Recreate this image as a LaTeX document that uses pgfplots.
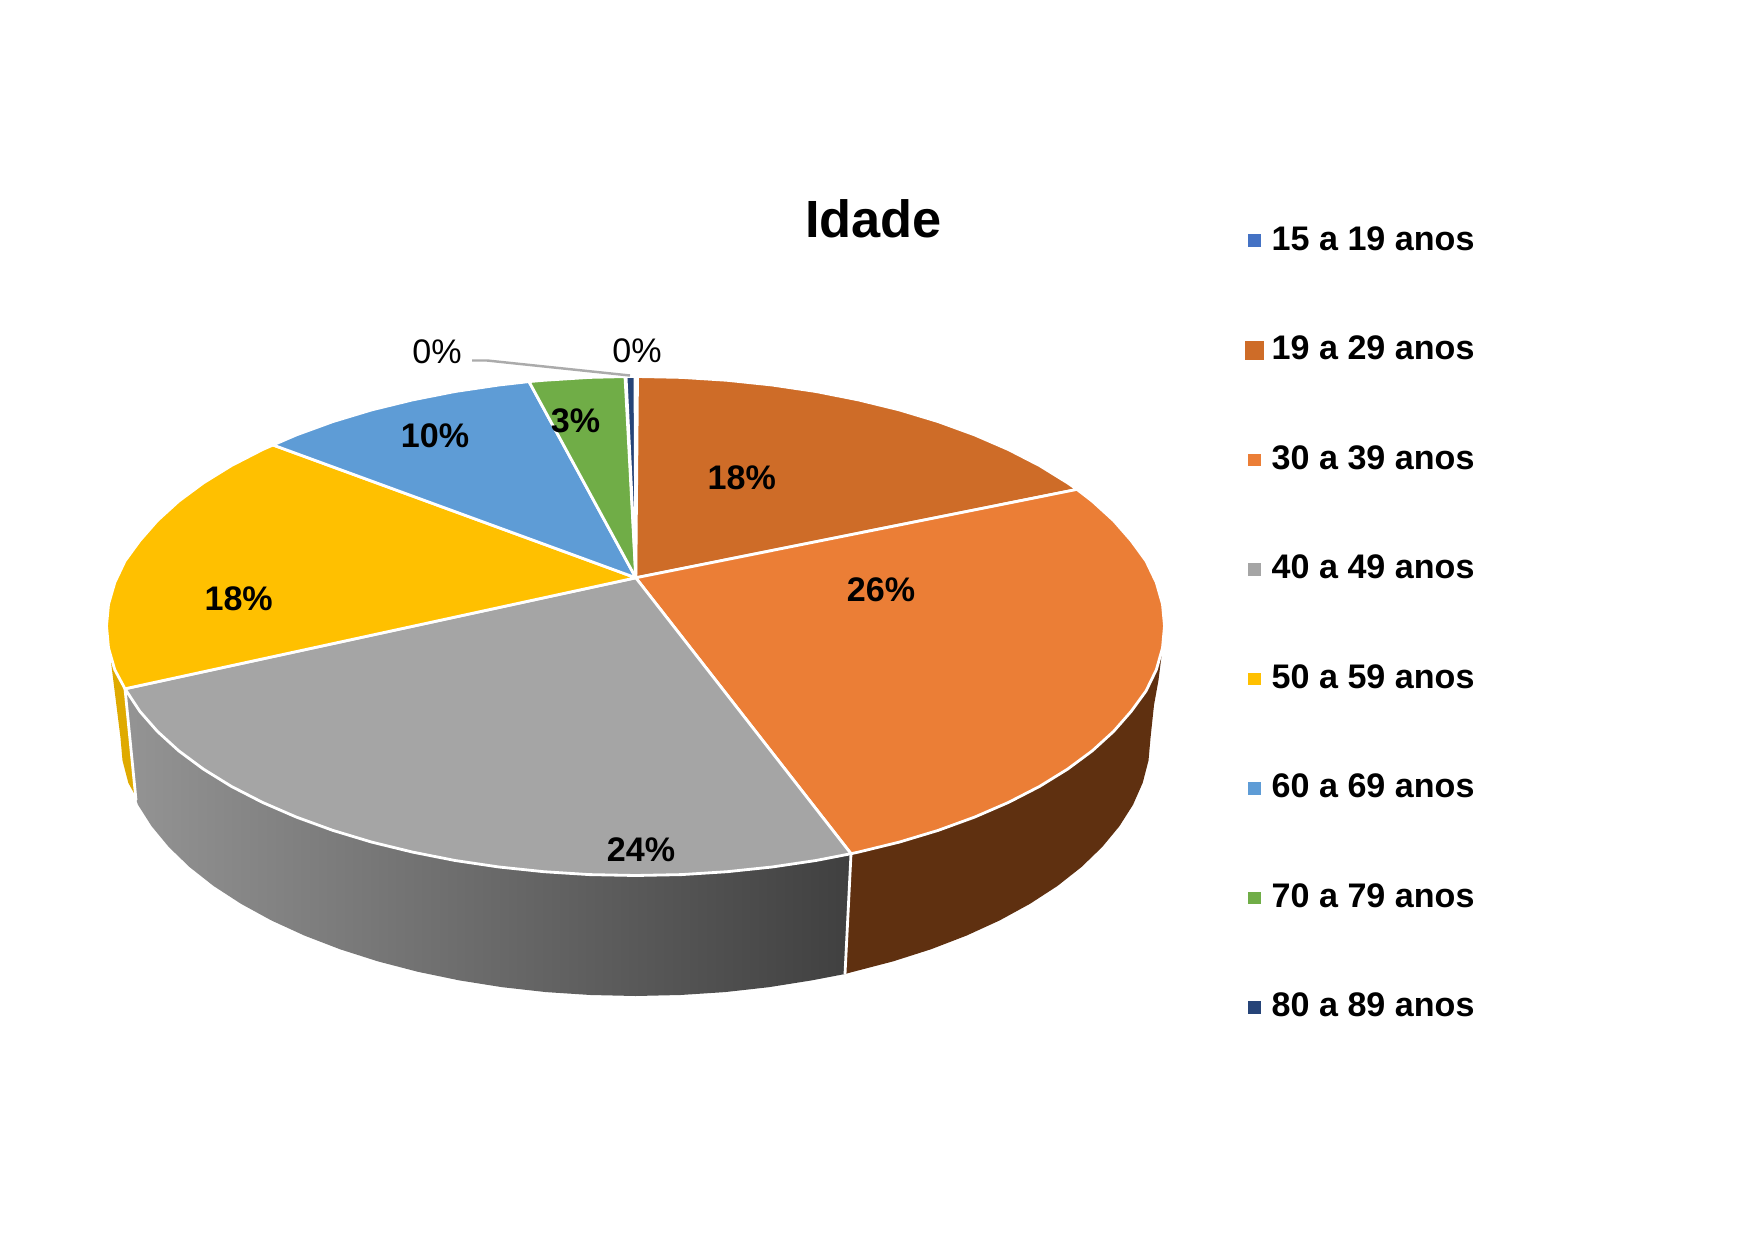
\documentclass[border=0pt]{standalone}
\usepackage{fontspec}
\setmainfont{Liberation Sans}
\usepackage{pgfplots}
\pgfplotsset{compat=1.18}
\definecolor{cBlueA}{HTML}{4472C4}
\definecolor{cBrown}{HTML}{CE6C28}
\definecolor{cOrange}{HTML}{EB7E36}
\definecolor{cGray}{HTML}{A5A5A5}
\definecolor{cYellow}{HTML}{FFC000}
\definecolor{cBlue}{HTML}{5E9CD6}
\definecolor{cGreen}{HTML}{70AD47}
\definecolor{cNavy}{HTML}{264478}
\definecolor{cSideBrown}{HTML}{5F3010}
\definecolor{cSideYellow}{HTML}{DFAA00}
\definecolor{cLeader}{HTML}{ABABAB}
\begin{document}
\begin{tikzpicture}
\path (0,0) rectangle (17.49cm,12.41cm);
\begin{axis}[
  at={(0,0)}, anchor=south west,
  scale only axis, width=17.49cm, height=12.41cm,
  xmin=0, xmax=1749, ymin=0, ymax=1241, y dir=reverse,
  hide axis, clip=false,
  wedge/.style={draw=white, line width=0.8pt, line join=round, forget plot, mark=none},
  side/.style={draw=none, forget plot, mark=none},
  divider/.style={white, line width=0.8pt, forget plot, mark=none},
  legend cell align=left,
  legend style={draw=none, fill=none, at={(axis cs:1245,222)}, anchor=north west,
    font=\fontsize{9.7pt}{11pt}\selectfont\bfseries, row sep=20.9pt, inner sep=0pt,
    nodes={inner sep=1pt}, /tikz/every odd column/.append style={column sep=1.3pt}},
]
% --- side walls ---
\addplot[side, fill=cSideYellow] coordinates {(111,662) (116,669.3) (125,688.8) (135,795) (128.3,782.8) (122.5,760.5) (120.5,738)} --cycle;
\addplot[side, fill=cSideBrown] coordinates {(1161.5,656) (1155,669.3) (1145,690.6) (1131.2,711.3) (1113.6,731.4) (1092.3,750.8) (1067.6,769.1) (1039.6,786.4) (1008.5,802.4) (974.6,817.1) (938.1,830.4) (899.3,842.1) (858.4,852.1) (851,853.7) (845,974) (853.1,971.8) (893,961.4) (930.9,949.3) (966.5,935.6) (999.7,920.4) (1030,903.8) (1057.4,886) (1081.5,867) (1102.2,847) (1119.4,826.2) (1133,804.8) (1142.7,782.8) (1148.5,760.5) (1150.5,738) (1154,705) (1158.5,680)} --cycle;
\addplot[side, left color=black!42, right color=black!75] coordinates {(851,853.7) (815.9,860.5) (772,867) (727.1,871.7) (681.5,874.6) (635.5,875.5) (589.5,874.6) (543.9,871.7) (499,867) (455.1,860.5) (412.6,852.1) (371.7,842.1) (332.9,830.4) (296.4,817.1) (262.5,802.4) (231.4,786.4) (203.4,769.1) (178.7,750.8) (157.4,731.4) (139.8,711.3) (125,688.8) (137,802) (138,804.8) (151.6,826.2) (168.8,847) (189.5,867) (213.6,886) (241,903.8) (271.3,920.4) (304.5,935.6) (340.1,949.3) (378,961.4) (417.9,971.8) (459.4,980.4) (502.2,987.2) (546.1,992.1) (590.6,995) (635.5,996) (680.4,995) (724.9,992.1) (768.8,987.2) (811.6,980.4) (845,974)} --cycle;
\addplot[divider] coordinates {(851,853.7) (845,974)};
\addplot[divider] coordinates {(125,688.8) (136,800)};
% --- top wedges ---
\addplot[wedge, fill=cBrown] coordinates {(635.8,577.8) (637.5,376.5) (681.5,377.4) (727.1,380.3) (772,385) (815.9,391.5) (858.4,399.9) (899.3,409.9) (938.1,421.6) (974.6,434.9) (1008.5,449.6) (1039.6,465.6) (1067.6,482.9) (1077,489.4)} --cycle;
\addplot[wedge, fill=cOrange] coordinates {(635.8,577.8) (1077,489.4) (1092.3,501.2) (1113.6,520.6) (1131.2,540.7) (1146,561) (1156.3,582.5) (1162.5,604.3) (1164.5,626) (1162.5,648) (1156.3,669.8) (1146,691) (1131.2,711.3) (1113.6,731.4) (1092.3,750.8) (1067.6,769.1) (1039.6,786.4) (1008.5,802.4) (974.6,817.1) (938.1,830.4) (899.3,842.1) (858.4,852.1) (851,853.7)} --cycle;
\addplot[wedge, fill=cGray] coordinates {(635.8,577.8) (851,853.7) (815.9,860.5) (772,867) (727.1,871.7) (681.5,874.6) (635.5,875.5) (589.5,874.6) (543.9,871.7) (499,867) (455.1,860.5) (412.6,852.1) (371.7,842.1) (332.9,830.4) (296.4,817.1) (262.5,802.4) (231.4,786.4) (203.4,769.1) (178.7,750.8) (157.4,731.4) (139.8,711.3) (125,688.8)} --cycle;
\addplot[wedge, fill=cYellow] coordinates {(635.8,577.8) (125,688.8) (114.8,669.8) (108.5,648) (106.5,626) (108.5,604.3) (114.8,582.5) (125,561) (139.8,540.7) (157.4,520.6) (178.7,501.2) (203.4,482.9) (231.4,465.6) (262.5,449.6) (273,445)} --cycle;
\addplot[wedge, fill=cBlue] coordinates {(635.8,577.8) (273,445) (296.4,434.9) (332.9,421.6) (371.7,409.9) (412.6,399.9) (455.1,391.5) (499,385) (529,381.6)} --cycle;
\addplot[wedge, fill=cGreen] coordinates {(635.8,577.8) (529,381.6) (543.9,380.3) (589.5,377.4) (625,376.6)} --cycle;
\addplot[wedge, fill=cNavy] coordinates {(635.8,577.8) (626,376.6) (635,376.5)} --cycle;
% --- leader line of the 0% label ---
\addplot[cLeader, line width=0.7pt, forget plot, mark=none, line join=round] coordinates {(472,360.5) (487,360.5) (630,375.5)};
% --- legend ---
\addlegendimage{only marks, mark=square*, mark size=1.6pt, color=cBlueA}
\addlegendentry{15 a 19 anos}
\addlegendimage{only marks, mark=square*, mark size=2.55pt, color=cBrown}
\addlegendentry{19 a 29 anos}
\addlegendimage{only marks, mark=square*, mark size=1.6pt, color=cOrange}
\addlegendentry{30 a 39 anos}
\addlegendimage{only marks, mark=square*, mark size=1.6pt, color=cGray}
\addlegendentry{40 a 49 anos}
\addlegendimage{only marks, mark=square*, mark size=1.6pt, color=cYellow}
\addlegendentry{50 a 59 anos}
\addlegendimage{only marks, mark=square*, mark size=1.6pt, color=cBlue}
\addlegendentry{60 a 69 anos}
\addlegendimage{only marks, mark=square*, mark size=1.6pt, color=cGreen}
\addlegendentry{70 a 79 anos}
\addlegendimage{only marks, mark=square*, mark size=1.6pt, color=cNavy}
\addlegendentry{80 a 89 anos}
% --- texts ---
\node[font=\fontsize{14.9pt}{16pt}\selectfont\bfseries] at (axis cs:873.4,219) {Idade};
\begin{scope}[every node/.style={font=\fontsize{9.7pt}{11pt}\selectfont\bfseries, text=black}]
\node at (axis cs:741.7,477.4) {18\%};
\node at (axis cs:881,590) {26\%};
\node at (axis cs:641,850) {24\%};
\node at (axis cs:238.7,599) {18\%};
\node at (axis cs:435,436) {10\%};
\node at (axis cs:575.5,420.5) {3\%};
\end{scope}
\node[font=\fontsize{9.7pt}{11pt}\selectfont] at (axis cs:437,352) {0\%};
\node[font=\fontsize{9.7pt}{11pt}\selectfont] at (axis cs:637,351) {0\%};
\end{axis}
\end{tikzpicture}
\end{document}
